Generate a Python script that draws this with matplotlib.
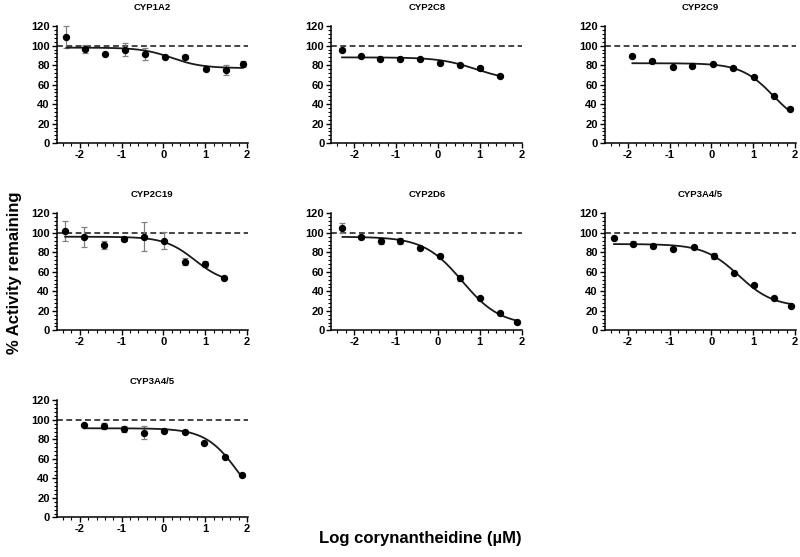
import numpy as np
import matplotlib
matplotlib.use('Agg')
import matplotlib.pyplot as plt
from matplotlib.ticker import AutoMinorLocator, MultipleLocator

plt.rcParams['font.family'] = ['Liberation Sans', 'DejaVu Sans']
plt.rcParams['font.weight'] = 'bold'
plt.rcParams['axes.unicode_minus'] = False

# 数据
titles = ['CYP1A2', 'CYP2C8', 'CYP2C9', 'CYP2C19', 'CYP2D6', 'CYP3A4/5', 'CYP3A4/5']

log_conc = [
    [-2.32, -1.87, -1.39, -0.92, -0.44, 0.04, 0.52, 1.01, 1.49, 1.89],
    [-2.29, -1.84, -1.39, -0.90, -0.43, 0.05, 0.53, 1.00, 1.49],
    [-1.89, -1.41, -0.93, -0.46, 0.04, 0.52, 1.01, 1.49, 1.88],
    [-2.35, -1.89, -1.42, -0.95, -0.46, 0.02, 0.51, 0.99, 1.45],
    [-2.28, -1.83, -1.36, -0.90, -0.42, 0.06, 0.53, 1.00, 1.49, 1.90],
    [-2.33, -1.88, -1.39, -0.91, -0.42, 0.06, 0.55, 1.02, 1.49, 1.90],
    [-1.89, -1.43, -0.94, -0.47, 0.02, 0.51, 0.98, 1.47, 1.88],
]
activity = [
    [109, 96.5, 91.5, 96, 91.5, 88.5, 88, 76.5, 75, 81.5],
    [96, 89, 86, 86, 86, 82.5, 80.5, 77, 69],
    [89.5, 84, 78, 79, 81, 77.5, 67.5, 48.5, 35.5],
    [102, 95.5, 87.5, 93.5, 96, 92, 70.5, 68, 54],
    [105, 95.5, 92, 91.5, 84, 76.5, 54, 33, 17.5, 9],
    [94.5, 89, 86, 83.5, 85.5, 76.5, 58.5, 46, 33, 24.5],
    [95, 93.5, 91, 87, 89, 88, 76.5, 62, 44],
]
activity_err = [
    [11, 4, 0, 7, 6, 0, 2, 0, 5, 3],
    [0, 0, 0, 0, 0, 0, 0, 2, 0],
    [0, 0, 0, 0, 0, 2, 0, 0, 2],
    [10, 10, 4, 2, 15, 9, 4, 3, 1],
    [5, 2, 3, 3, 0, 2, 3, 0, 0, 0],
    [0, 3, 0, 0, 0, 3, 0, 2, 0, 0],
    [0, 3, 3, 7, 0, 0, 0, 0, 0],
]

# 四参数拟合曲线参数
fit_top = [98, 88, 82, 96, 96, 88.5, 91.5]
fit_bottom = [77, 64, 15, 48, 5, 24, 0]
fit_logic50 = [0.2, 0.9, 1.48, 0.75, 0.58, 0.65, 1.8]
fit_hill = [1.2, 1.0, 1.13, 1.2, 0.95, 1.05, 1.1]

fig = plt.figure(figsize=(8, 5.57), dpi=100)

col_left = [0.071, 0.414, 0.756]
row_bottom = [0.743, 0.407, 0.071]

for i in range(len(titles)):
    r, c = divmod(i, 3)
    ax = fig.add_axes([col_left[c], row_bottom[r], 0.239, 0.21])

    x = np.array(log_conc[i])
    y = np.array(activity[i])
    e = np.array(activity_err[i])

    # 拟合曲线
    xs = np.linspace(x.min(), x.max(), 200)
    ys = fit_bottom[i] + (fit_top[i] - fit_bottom[i]) / (1 + 10 ** ((xs - fit_logic50[i]) * fit_hill[i]))
    ax.plot(xs, ys, color='#1a1a1a', lw=1.3, zorder=3)

    # 100% 参考线
    ax.axhline(100, color='#444444', lw=1.4, ls=(0, (3, 1.8)), zorder=2)

    # 误差棒
    m = e > 0
    ax.errorbar(x[m], y[m], yerr=e[m], fmt='none', ecolor='#808080', elinewidth=0.9,
                capsize=2.2, capthick=0.9, zorder=2, clip_on=False)
    ax.plot(x, y, 'o', color='black', ms=4.3, zorder=4, clip_on=False)

    ax.set_xlim(-2.55, 2.02)
    ax.set_ylim(0, 120)
    ax.xaxis.set_major_locator(MultipleLocator(1))
    ax.yaxis.set_major_locator(MultipleLocator(20))
    ax.xaxis.set_minor_locator(AutoMinorLocator(5))
    ax.yaxis.set_minor_locator(AutoMinorLocator(5))
    ax.tick_params(which='major', length=3.5, width=1.0, labelsize=8, pad=1.5)
    ax.tick_params(which='minor', length=2, width=0.8)
    for lab in ax.get_xticklabels() + ax.get_yticklabels():
        lab.set_fontweight('bold')
    for s in ['top', 'right']:
        ax.spines[s].set_visible(False)
    for s in ['left', 'bottom']:
        ax.spines[s].set_linewidth(1.1)

    ax.set_title(titles[i], fontsize=6.8, fontweight='bold', pad=12)

fig.text(0.018, 0.51, '% Activity remaining', rotation=90, fontsize=12,
         fontweight='bold', ha='center', va='center')
fig.text(0.525, 0.034, 'Log corynantheidine (µM)', fontsize=12,
         fontweight='bold', ha='center', va='center')

fig.savefig('out.png', dpi=100)
